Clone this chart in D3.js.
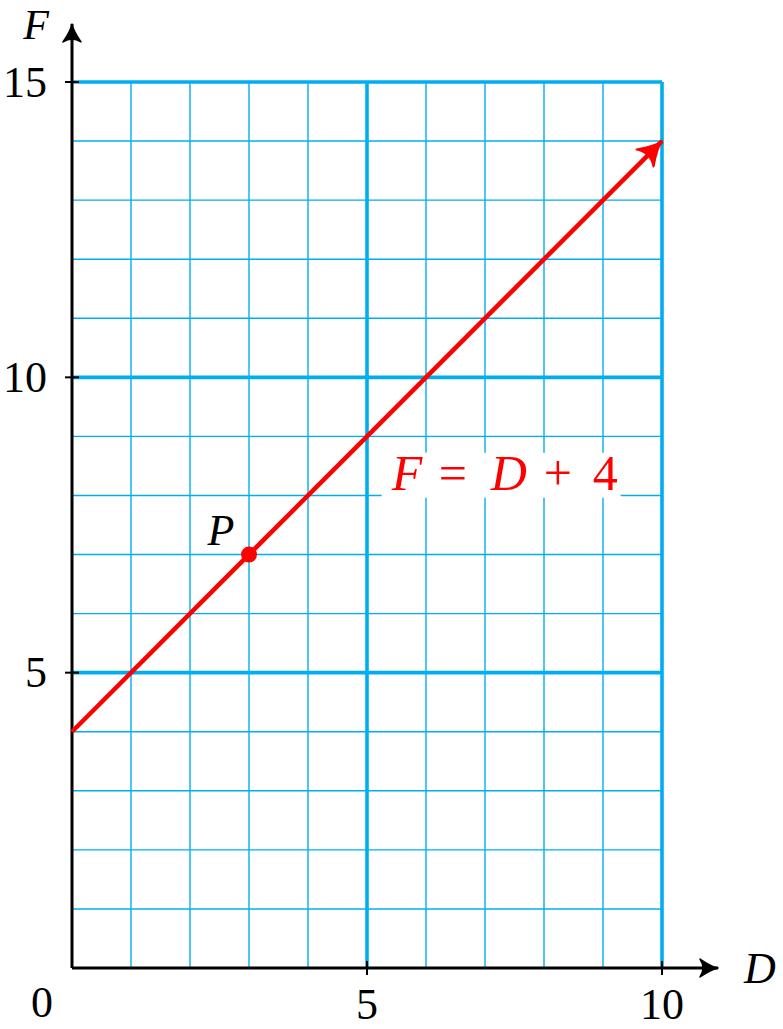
<!DOCTYPE html>
<html><head><meta charset="utf-8">
<script src="https://cdn.jsdelivr.net/npm/d3@7"></script>
<style>body{margin:0;background:#fff}svg{display:block}</style>
</head><body>
<script>
const xDomain = [0, 10];
const yDomain = [0, 15];
const xTicks = [5, 10];
const yTicks = [5, 10, 15];
const lineStart = {D: 0, F: 4};
const lineEnd = {D: 10, F: 14};
const pointP = {D: 3, F: 7, label: "P"};
const eqLabel = {D: 5.35, F: 8.3};
const eqParts = [
  {t: "F", italic: true, dx: 4},
  {t: "=", italic: false, dx: 51},
  {t: "D", italic: true, dx: 103},
  {t: "+", italic: false, dx: 156},
  {t: "4", italic: false, dx: 205}
];

const W = 783, H = 1029;
const svg = d3.select("body").append("svg").attr("width", W).attr("height", H);
const x = d3.scaleLinear().domain(xDomain).range([72, 662]);
const y = d3.scaleLinear().domain(yDomain).range([968, 82]);
const blue = "#00AEEF";
const font = "'Liberation Serif', 'DejaVu Serif', serif";

// minor grid
const minorX = d3.range(1, 10), minorY = d3.range(1, 15);
svg.selectAll(".mx").data(minorX).enter().append("line")
  .attr("x1", d => x(d)).attr("x2", d => x(d)).attr("y1", y(0)).attr("y2", y(15))
  .attr("stroke", blue).attr("stroke-width", 1.4);
svg.selectAll(".my").data(minorY).enter().append("line")
  .attr("y1", d => y(d)).attr("y2", d => y(d)).attr("x1", x(0)).attr("x2", x(10))
  .attr("stroke", blue).attr("stroke-width", 1.4);
// major grid
svg.selectAll(".Mx").data(xTicks).enter().append("line")
  .attr("x1", d => x(d)).attr("x2", d => x(d)).attr("y1", y(0)).attr("y2", y(15))
  .attr("stroke", blue).attr("stroke-width", 3.6);
svg.selectAll(".My").data(yTicks).enter().append("line")
  .attr("y1", d => y(d)).attr("y2", d => y(d)).attr("x1", x(0)).attr("x2", x(10))
  .attr("stroke", blue).attr("stroke-width", 3.6);

// equation label with white background
const ex = x(eqLabel.D), ey = y(eqLabel.F);
svg.append("rect").attr("x", ex - 6).attr("y", ey - 25).attr("width", 239).attr("height", 45).attr("fill", "#fff");
svg.selectAll(".eq").data(eqParts).enter().append("text")
  .attr("x", d => ex + d.dx).attr("y", ey + 12)
  .attr("font-family", font).attr("font-size", 50).attr("fill", "#f00")
  .attr("font-style", d => d.italic ? "italic" : "normal").text(d => d.t);

// axes
const defs = svg.append("defs");
defs.append("marker").attr("id", "ah").attr("viewBox", "-22 -12 26 24").attr("refX", 0).attr("refY", 0)
  .attr("markerWidth", 26).attr("markerHeight", 24).attr("markerUnits", "userSpaceOnUse").attr("orient", "auto")
  .append("path").attr("d", "M-18,-9 Q-6,-1 0,0 Q-6,1 -18,9 Q-12,0 -18,-9 Z").attr("fill", "#000").attr("stroke", "#000").attr("stroke-width", 1.5).attr("stroke-linejoin", "round");
defs.append("marker").attr("id", "ahr").attr("viewBox", "-30 -16 34 32").attr("refX", 0).attr("refY", 0)
  .attr("markerWidth", 34).attr("markerHeight", 32).attr("markerUnits", "userSpaceOnUse").attr("orient", "auto")
  .append("path").attr("d", "M-24,-12 Q-8,-1 0,0 Q-8,1 -24,12 Q-16,0 -24,-12 Z").attr("fill", "#f00").attr("stroke", "#f00").attr("stroke-width", 2).attr("stroke-linejoin", "round");

svg.append("line").attr("x1", x(0)).attr("y1", y(0)).attr("x2", 718).attr("y2", y(0))
  .attr("stroke", "#000").attr("stroke-width", 3).attr("marker-end", "url(#ah)");
svg.append("line").attr("x1", x(0)).attr("y1", y(0)).attr("x2", x(0)).attr("y2", 24)
  .attr("stroke", "#000").attr("stroke-width", 3).attr("marker-end", "url(#ah)");

// ticks
svg.selectAll(".xt").data(xTicks).enter().append("line")
  .attr("x1", d => x(d)).attr("x2", d => x(d)).attr("y1", y(0) - 7).attr("y2", y(0) + 7)
  .attr("stroke", "#000").attr("stroke-width", 2);
svg.selectAll(".yt").data(yTicks).enter().append("line")
  .attr("y1", d => y(d)).attr("y2", d => y(d)).attr("x1", x(0) - 7).attr("x2", x(0) + 7)
  .attr("stroke", "#000").attr("stroke-width", 2);

// tick labels
svg.selectAll(".xl").data(xTicks).enter().append("text")
  .attr("x", d => x(d)).attr("y", 1019).attr("text-anchor", "middle")
  .attr("font-family", font).attr("font-size", 44).text(d => d);
svg.selectAll(".yl").data(yTicks).enter().append("text")
  .attr("x", 47).attr("y", d => y(d)).attr("text-anchor", "end").attr("dominant-baseline", "central")
  .attr("font-family", font).attr("font-size", 44).text(d => d);
svg.append("text").attr("x", 42).attr("y", 1017).attr("text-anchor", "middle")
  .attr("font-family", font).attr("font-size", 44).text("0");

// axis labels
svg.append("text").attr("x", 760).attr("y", 983).attr("text-anchor", "middle")
  .attr("font-family", font).attr("font-style", "italic").attr("font-size", 44).text("D");
svg.append("text").attr("x", 36).attr("y", 39).attr("text-anchor", "middle")
  .attr("font-family", font).attr("font-style", "italic").attr("font-size", 42).text("F");

// red line
svg.append("line").attr("x1", x(lineStart.D)).attr("y1", y(lineStart.F))
  .attr("x2", x(lineEnd.D)).attr("y2", y(lineEnd.F))
  .attr("stroke", "#f00").attr("stroke-width", 4.5).attr("marker-end", "url(#ahr)");

// point P
svg.append("circle").attr("cx", x(pointP.D)).attr("cy", y(pointP.F)).attr("r", 8).attr("fill", "#f00");
svg.append("text").attr("x", x(pointP.D) - 28).attr("y", y(pointP.F) - 10).attr("text-anchor", "middle")
  .attr("font-family", font).attr("font-style", "italic").attr("font-size", 44).text(pointP.label);
</script>
</body></html>
